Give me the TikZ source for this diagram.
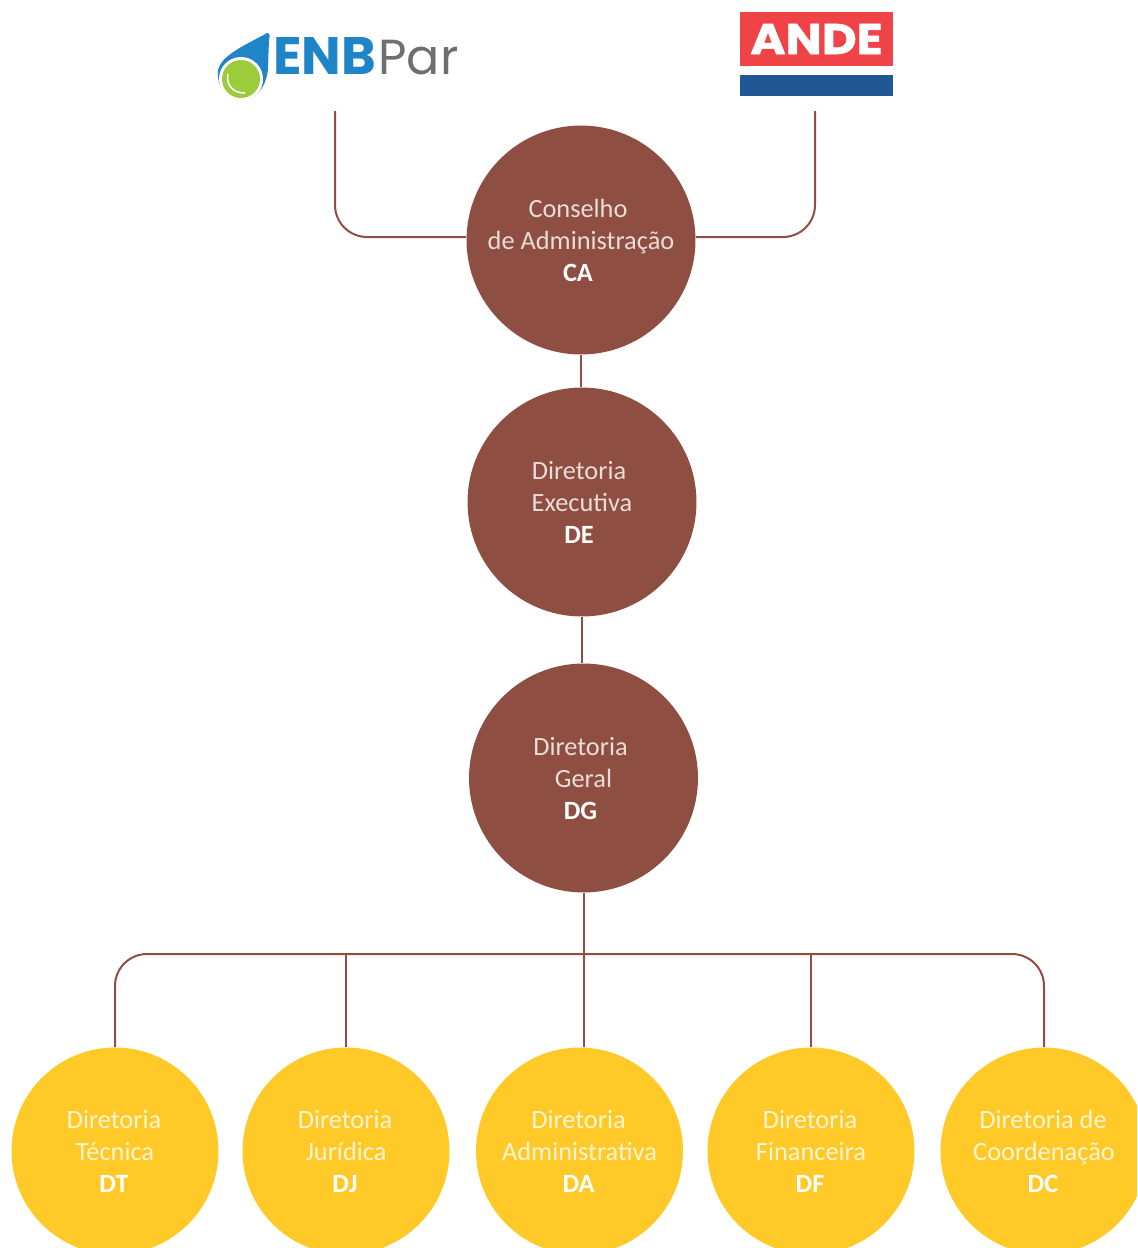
\documentclass[tikz,border=0pt]{standalone}
\usepackage{fontspec}
\setmainfont{Carlito}
\newfontfamily\logofont{Poppins}
\newfontfamily\andefont[BoldFeatures={FakeStretch=1.12,FakeBold=1.2}]{Poppins}
\definecolor{orgbrown}{HTML}{8F4E42}
\definecolor{orgyellow}{HTML}{FFC928}
\definecolor{enbblue}{HTML}{1F84C8}
\definecolor{enbgreen}{HTML}{9CCB3B}
\definecolor{enbgray}{HTML}{6D7073}
\definecolor{andered}{HTML}{F04347}
\definecolor{andeblue}{HTML}{215795}
\tikzset{
	boss/.style={circle,fill=orgbrown,minimum size=4.58cm,inner sep=0pt,align=center,text=white!80!orgbrown,font=\fontsize{15}{18.2}\selectfont},
	unit/.style={circle,fill=orgyellow,minimum size=4.14cm,inner sep=0pt,align=center,text=white!80!orgyellow,font=\fontsize{15}{18.2}\selectfont},
	link/.style={orgbrown,line width=.04cm},
}
\newcommand{\firstline}{\rule{0pt}{16pt}}
\newcommand{\orgtext}[3]{\firstline#1\hspace*{.12cm}\\#2\hspace*{.12cm}\\\strut\textcolor{white}{\textbf{#3}}\hspace*{.12cm}}
\newcommand{\unittext}[3]{\firstline#1\hspace*{.04cm}\\#2\hspace*{.04cm}\\\strut\textcolor{white}{\textbf{#3}}\hspace*{.04cm}}
\begin{document}
\begin{tikzpicture}[x=.02cm,y=-.02cm]
	\useasboundingbox (0,0) rectangle (1137,1248);
	\clip (0,0) rectangle (1137,1248);
	% logos
	\fill[enbblue] (267,33) .. controls (270,33) and (270,36) .. (269,40) -- (268,66) .. controls (268,82) and (260,94) .. (250,99) .. controls (232,102) and (216,92) .. (218,70) .. controls (222,54) and (248,44) .. (267,33) -- cycle;
	\fill[white] (241,79) circle (22);
	\fill[enbgreen] (241,79) circle (19);
	\draw[white,line width=.03cm] (228,74) .. controls (226,84) and (232,93) .. (245,93);
	\node[anchor=base west,inner sep=0pt,text=enbblue,font=\logofont\fontsize{30}{30}\selectfont\bfseries] (enb) at (273,74) {ENB};
	\node[anchor=base west,inner sep=0pt,xshift=.03cm,text=enbgray,font=\logofont\fontsize{28}{28}\selectfont] (par) at (enb.base east) {Par};
	\node[fill=andered,minimum width=3.06cm,minimum height=1.08cm,inner sep=0pt,text=white,font=\andefont\fontsize{24.4}{25}\selectfont\bfseries] (ande) at (816.5,39) {ANDE};
	\node[fill=andeblue,minimum width=3.06cm,minimum height=.42cm,inner sep=0pt] (andebar) at (816.5,85.5) {};
	\coordinate (enbfoot) at (335,111);
	\coordinate (andefoot) at (815,111);
	% top of the chart
	\node[boss] (CA) at (581,240) {\orgtext{Conselho}{de Administração}{CA}};
	\node[boss] (DE) at (582,502) {\orgtext{Diretoria}{Executiva}{DE}};
	\node[boss] (DG) at (583.5,778) {\orgtext{Diretoria}{Geral}{DG}};
	% directorates
	\node[unit] (DT) at (115,1151) {\unittext{Diretoria}{Técnica}{DT}};
	\node[unit] (DJ) at (346,1151) {\unittext{Diretoria}{Jurídica}{DJ}};
	\node[unit] (DA) at (579.5,1151) {\unittext{Diretoria}{Administrativa}{DA}};
	\node[unit] (DF) at (811,1151) {\unittext{Diretoria}{Financeira}{DF}};
	\node[unit] (DC) at (1044,1151) {\unittext{Diretoria de}{Coordenação}{DC}};
	\coordinate (joint) at (581,237);
	\coordinate (bar) at (583,954);
	% connectors
	\draw[link,rounded corners=.64cm] (enbfoot) |- (CA.west |- joint);
	\draw[link,rounded corners=.64cm] (andefoot) |- (CA.east |- joint);
	\draw[link] (CA.south) -- (CA.south |- DE.north);
	\draw[link] (DE.south) -- (DE.south |- DG.north);
	\draw[link] (DG.south) -- (DG.south |- DA.north);
	\draw[link,rounded corners=.64cm] (DT.north) |- (bar) -| (DC.north);
	\draw[link] (DJ.north) -- (DJ.north |- bar);
	\draw[link] (DF.north) -- (DF.north |- bar);
\end{tikzpicture}
\end{document}
